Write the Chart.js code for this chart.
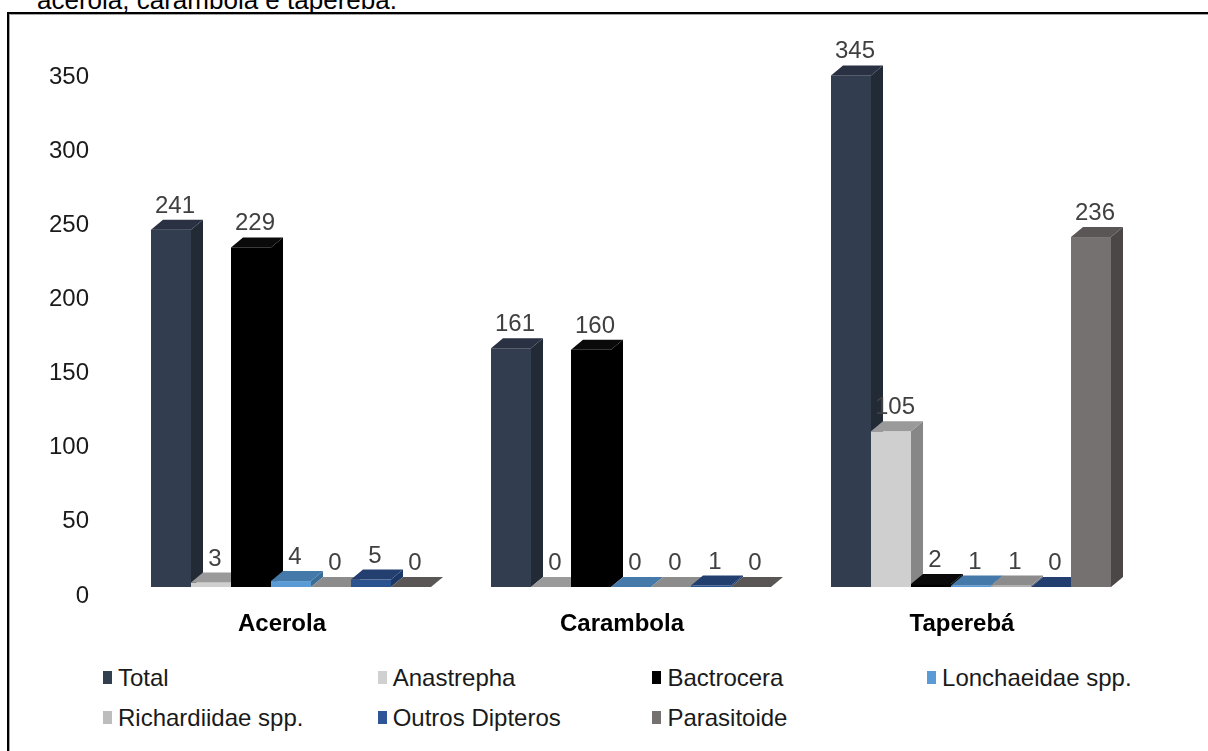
<!DOCTYPE html>
<html>
<head>
<meta charset="utf-8">
<script src="https://cdn.jsdelivr.net/npm/chart.js@4.4.1/dist/chart.umd.min.js"></script>
<style>
  html, body { margin: 0; padding: 0; background: #fff; }
  body { width: 1208px; height: 751px; overflow: hidden; position: relative;
         font-family: "Liberation Sans", Arial, sans-serif; }
  #caption { position: absolute; left: 37px; top: -14px; font-size: 26px; line-height: 28px;
             color: #000; white-space: nowrap; }
  #frame { position: absolute; left: 7px; top: 12px; width: 1300px; height: 900px;
           border: 2px solid #000; box-shadow: inset 1px 1px 0 #a6a6a6; }
  #chart { position: absolute; left: 0; top: 0; }
  #legend { position: absolute; left: 103px; top: 664px; display: grid;
            grid-template-columns: repeat(4, 274.7px); grid-auto-rows: 40px; }
  .item { display: flex; align-items: center; height: 27px; line-height: 27px;
          font-size: 24px; color: #1a1a1a; white-space: nowrap; }
  .swatch { width: 9px; height: 13px; margin-right: 6px; flex: none; }
</style>
</head>
<body>
<div id="caption">acerola, carambola e taperebá.</div>
<div id="frame"></div>
<canvas id="chart" width="1208" height="650"></canvas>
<div id="legend"></div>
<script>
// Fruit hosts and insect groups recovered from each
const categories = ['Acerola', 'Carambola', 'Taperebá'];
const seriesNames = ['Total', 'Anastrepha', 'Bactrocera', 'Lonchaeidae spp.',
                     'Richardiidae spp.', 'Outros Dipteros', 'Parasitoide'];

const total          = [241, 161, 345];
const anastrepha     = [3, 0, 105];
const bactrocera     = [229, 160, 2];
const lonchaeidae    = [4, 0, 1];
const richardiidae   = [0, 0, 1];
const outrosDipteros = [5, 1, 0];
const parasitoide    = [0, 0, 236];

const seriesValues = [total, anastrepha, bactrocera, lonchaeidae,
                      richardiidae, outrosDipteros, parasitoide];

// Face colours of each pseudo-3D column: front, side, top
const frontColors = ['#323d4f', '#d0cfd0', '#000000', '#5b9bd5', '#b0b0b0', '#2a5190', '#767171'];
const sideColors  = ['#222a36', '#878787', '#000000', '#3b6d99', '#7a7a7a', '#1c3866', '#4b4747'];
const topColors   = ['#293142', '#9a9a9a', '#0a0a0a', '#4479aa', '#8c8c8c', '#223f70', '#5a5656'];
const legendColors = ['#323f4f', '#d0d0d0', '#000000', '#5b9bd5', '#bdbdbd', '#2e5597', '#767171'];

const FONT = '"Liberation Sans", Arial, sans-serif';
const DEPTH_X = 12;
const DEPTH_Y = 10;

function fillPoly(ctx, pts, color) {
  ctx.beginPath();
  ctx.moveTo(pts[0][0], pts[0][1]);
  for (let k = 1; k < pts.length; k++) ctx.lineTo(pts[k][0], pts[k][1]);
  ctx.closePath();
  ctx.fillStyle = color;
  ctx.fill();
}

// Draws every column as a box (front, right side, top) and its value label
const columns3d = {
  id: 'columns3d',
  beforeDatasetsDraw(chart) {
    const ctx = chart.ctx;
    ctx.save();
    const labels = [];
    chart.data.datasets.forEach((ds, i) => {
      const meta = chart.getDatasetMeta(i);
      meta.data.forEach((bar, j) => {
        const p = bar.getProps(['x', 'y', 'base', 'width'], true);
        const l = p.x - p.width / 2, r = p.x + p.width / 2;
        const top = Math.min(p.y, p.base), bottom = Math.max(p.y, p.base);
        ctx.fillStyle = frontColors[i];
        ctx.fillRect(l, top, r - l, bottom - top);
        fillPoly(ctx, [[r, bottom], [r + DEPTH_X, bottom - DEPTH_Y],
                       [r + DEPTH_X, top - DEPTH_Y], [r, top]], sideColors[i]);
        fillPoly(ctx, [[l, top], [l + DEPTH_X, top - DEPTH_Y],
                       [r + DEPTH_X, top - DEPTH_Y], [r, top]], topColors[i]);
        labels.push({ x: p.x + 4, y: top - DEPTH_Y - 7, text: String(ds.data[j]) });
      });
    });
    ctx.font = '24px ' + FONT;
    ctx.fillStyle = '#404040';
    ctx.textAlign = 'center';
    ctx.textBaseline = 'alphabetic';
    labels.forEach(t => ctx.fillText(t.text, t.x, t.y));
    ctx.restore();
    return false;
  }
};

const datasets = seriesNames.map((name, i) => ({
  label: name,
  data: seriesValues[i],
  backgroundColor: frontColors[i],
  borderWidth: 0,
  barPercentage: 1.0,
  categoryPercentage: 280 / 340
}));

new Chart(document.getElementById('chart'), {
  type: 'bar',
  data: { labels: categories, datasets },
  options: {
    responsive: false,
    devicePixelRatio: 1,
    animation: false,
    events: [],
    layout: { padding: { left: 0, top: 68, right: 67, bottom: 0 } },
    plugins: { legend: { display: false }, tooltip: { enabled: false } },
    scales: {
      x: {
        grid: { display: false },
        border: { display: false },
        ticks: {
          color: '#000',
          font: { family: FONT, size: 24, weight: 'bold' },
          padding: 15,
          labelOffset: -9,
          maxRotation: 0
        },
        afterFit(scale) { scale.height = 63; }
      },
      y: {
        min: 0,
        max: 350,
        grid: { display: false },
        border: { display: false },
        ticks: {
          stepSize: 50,
          color: '#1a1a1a',
          font: { family: FONT, size: 24 },
          padding: 24,
          labelOffset: 9
        },
        afterFit(scale) { scale.width = 121; }
      }
    }
  },
  plugins: [columns3d]
});

// Legend laid out in four fixed columns
const legendEl = document.getElementById('legend');
seriesNames.forEach((name, i) => {
  const item = document.createElement('div');
  item.className = 'item';
  const sw = document.createElement('span');
  sw.className = 'swatch';
  sw.style.background = legendColors[i];
  item.appendChild(sw);
  item.appendChild(document.createTextNode(name));
  legendEl.appendChild(item);
});
</script>
</body>
</html>
